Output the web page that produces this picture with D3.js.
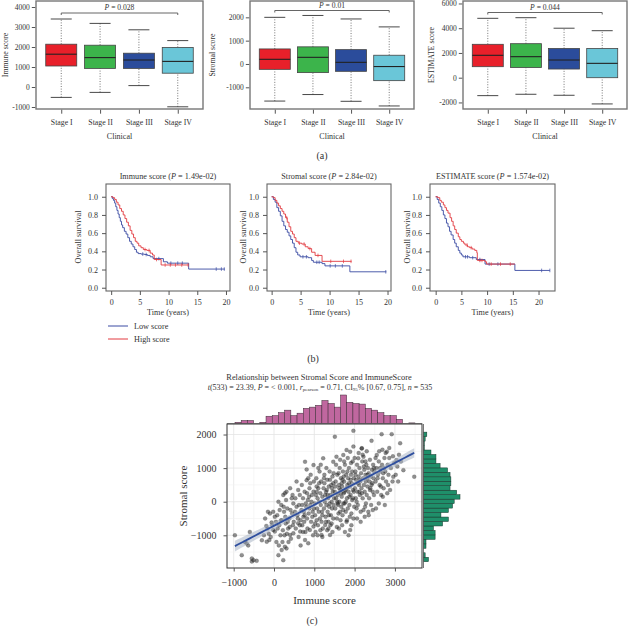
<!DOCTYPE html>
<html><head><meta charset="utf-8">
<script src="https://cdn.jsdelivr.net/npm/d3@7"></script>
<style>body{margin:0;background:#fff}svg{display:block}text{font-family:"Liberation Serif","Times New Roman",serif;fill:#333}</style>
</head><body><svg id="c" width="629" height="626"></svg>
<script>
// ---------------- DATA ----------------
const stages = ["Stage I","Stage II","Stage III","Stage IV"];
const stageColors = ["#e8202a","#3cb44b","#2b4c9b","#6ac6d8"];
// [lowerWhisker, Q1, median, Q3, upperWhisker]
const immuneBox   = [[-520,1050,1640,2140,3400],[-270,930,1470,2090,3180],[70,930,1350,1690,2860],[-990,690,1280,1980,2320]];
const stromalBox  = [[-1590,-230,200,645,2000],[-1310,-370,285,735,2080],[-1600,-315,70,615,1930],[-1800,-715,-110,375,1590]];
const estimateBox = [[-1450,890,1810,2700,4800],[-1340,820,1700,2750,4850],[-1420,700,1430,2360,4000],[-2120,0,1160,2360,3800]];
const immuneTicks = [-1000,0,1000,2000,3000,4000];
const stromalTicks = [-1000,0,1000,2000];
const estimateTicks = [-2000,0,2000,4000,6000];
const pValuesA = ["0.028","0.01","0.044"];

// Kaplan-Meier steps [years, survival]
const kmImmuneLow  = [[0,1],[0.2,0.98],[0.4,0.96],[0.6,0.93],[0.8,0.89],[1,0.85],[1.2,0.81],[1.4,0.77],[1.6,0.73],[1.8,0.69],[2.0,0.66],[2.3,0.62],[2.6,0.59],[2.9,0.55],[3.2,0.51],[3.5,0.48],[3.8,0.45],[4.1,0.42],[4.4,0.39],[4.7,0.375],[5.2,0.37],[5.8,0.365],[6.3,0.355],[6.8,0.34],[7.3,0.32],[9.1,0.285],[9.8,0.27],[13.5,0.205],[19.8,0.205]];
const kmImmuneHigh = [[0,1],[0.3,0.99],[0.6,0.97],[0.9,0.94],[1.2,0.91],[1.5,0.87],[1.8,0.84],[2.1,0.8],[2.4,0.76],[2.7,0.72],[3.0,0.68],[3.3,0.63],[3.6,0.59],[3.9,0.55],[4.2,0.51],[4.5,0.49],[4.8,0.46],[5.2,0.44],[5.6,0.42],[6.2,0.41],[6.8,0.38],[7.2,0.36],[7.5,0.31],[8.7,0.25],[13.5,0.25]];
const kmStromalLow  = [[0,1],[0.3,0.97],[0.6,0.94],[0.9,0.88],[1.2,0.84],[1.5,0.79],[1.8,0.73],[2.1,0.68],[2.4,0.64],[2.7,0.61],[3.0,0.57],[3.3,0.53],[3.6,0.49],[3.9,0.44],[4.2,0.39],[4.5,0.36],[4.9,0.34],[6.3,0.33],[6.9,0.30],[7.2,0.28],[8.7,0.265],[9.2,0.24],[13.5,0.175],[19.8,0.175]];
const kmStromalHigh = [[0,1],[0.3,0.99],[0.6,0.96],[0.9,0.93],[1.2,0.9],[1.5,0.87],[1.8,0.84],[2.1,0.81],[2.4,0.77],[2.7,0.72],[3.0,0.67],[3.3,0.62],[3.6,0.59],[3.9,0.55],[4.2,0.51],[4.6,0.49],[5.2,0.48],[5.8,0.45],[6.3,0.43],[6.9,0.39],[7.5,0.355],[8.7,0.29],[13.8,0.29]];
const kmEstimateLow  = [[0,1],[0.3,0.97],[0.6,0.93],[0.9,0.89],[1.2,0.85],[1.5,0.8],[1.8,0.76],[2.1,0.71],[2.4,0.67],[2.7,0.62],[3.0,0.58],[3.4,0.53],[3.7,0.49],[4.0,0.45],[4.4,0.41],[4.7,0.38],[5.0,0.36],[5.3,0.34],[6.6,0.33],[7.9,0.31],[9.6,0.26],[15.4,0.19],[22.2,0.19]];
const kmEstimateHigh = [[0,1],[0.4,0.99],[0.8,0.96],[1.1,0.94],[1.5,0.91],[1.8,0.88],[2.1,0.85],[2.4,0.82],[2.8,0.77],[3.1,0.73],[3.4,0.68],[3.7,0.64],[4.0,0.6],[4.4,0.56],[4.7,0.53],[5.0,0.51],[5.4,0.49],[5.7,0.47],[6.2,0.45],[6.6,0.44],[7.1,0.425],[7.6,0.41],[8.0,0.385],[8.1,0.30],[9.6,0.285],[9.9,0.26],[15.4,0.26]];
const censorImmuneLow = [5.5,6.1,8.3,10.4,11.6,12.4,18.3,19.2,19.7];
const censorImmuneHigh = [5.9,6.6,7.9,9.4,10.3,11.2,12.3,13.4];
const censorStromalLow = [5.4,6.0,7.8,8.2,10.1,11.0,12.2,19.7];
const censorStromalHigh = [2.6,4.8,5.6,6.6,8.0,10.2,12.4,13.7];
const censorEstimateLow = [5.8,6.2,7.2,8.6,10.4,12.1,20.6,22.2];
const censorEstimateHigh = [6.1,6.9,8.6,9.0,10.8,12.6,14.5];
const kmTitles = ["Immune score","Stromal score","ESTIMATE score"];
const kmP = ["1.49e-02","2.84e-02","1.574e-02"];
const kmXTicks = [0,5,10,15,20];
const kmYTicks = [0,0.2,0.4,0.6,0.8,1.0];
const legendLabels = ["Low score","High score"];

// Scatter: [immune score, stromal score]
const scatterPoints = [
[-970,-1000],[-800,-1590],[-680,-1240],[-550,-1690],[-510,-1740],[-550,-1780],[-430,-1760],[-640,-1300],[-720,-1200],[-600,-900],[-300,-1150],[-220,-500],[-160,-800],[-100,-350],[-20,-300],[-20,-840],[-115,-1140],[-180,-1190],[-60,-620],[-130,-950],[-80,-1050],[-40,-700],[-250,-1000],[-190,-720],[-150,-300],
[20,-890],[110,0],[110,-1590],[230,-1740],[270,-1340],[190,-1440],[310,-1390],[400,-990],[480,-940],[270,250],[310,300],[480,-50],[230,200],[400,400],[50,-600],[80,-400],[130,-700],[160,-1000],[200,-550],[220,-850],[250,-300],[290,-650],[330,-200],[350,-800],[380,-500],[420,-1100],[450,-350],[470,-700],[60,-1200],[140,-250],[180,-100],[260,-1000],[300,50],[360,-1200],[440,100],[20,-450],[90,-800],[170,-560],[240,-150],[320,-950],[410,-250],[490,-600],[120,-1300],[210,-1200],[280,-450],[340,-600],[460,200],[390,-750],
[560,600],[810,640],[560,-150],[730,-450],[850,-1240],[770,-1140],[650,-890],[600,-640],[890,-840],[980,-740],[1060,450],[770,1190],[810,960],[980,1090],[520,-300],[540,-800],[580,-400],[620,-100],[640,200],[660,-550],[680,-250],[700,-700],[720,100],[740,-300],[760,300],[780,-900],[800,-150],[820,-500],[840,50],[860,-350],[880,400],[900,-100],[920,-600],[940,200],[960,-300],[990,600],[530,100],[610,-1050],[690,500],[750,-600],[830,-800],[870,150],[910,800],[950,-450],[970,-1000],[600,350],[700,-100],[790,-50],[850,700],[930,0],[980,300],[660,-1300],[720,-900],[880,-200],[590,-500],[640,-700],[820,250],[900,550],[760,-400],[990,-200],
[1060,-550],[1180,-990],[1270,-690],[1390,-990],[1470,-500],[1310,350],[1470,550],[1220,1290],[1470,1190],[1510,1935],[1010,-50],[1020,-400],[1040,200],[1050,700],[1070,-200],[1080,100],[1090,-700],[1100,400],[1110,-300],[1120,0],[1130,900],[1140,-500],[1150,250],[1160,-100],[1170,600],[1190,-300],[1200,150],[1210,-800],[1230,400],[1240,-200],[1250,800],[1260,0],[1280,-450],[1290,300],[1300,-100],[1320,650],[1330,-300],[1340,100],[1350,-600],[1360,450],[1370,-150],[1380,900],[1400,200],[1410,-400],[1420,500],[1430,0],[1440,-200],[1450,750],[1460,300],[1480,-100],[1490,100],[1030,-900],[1100,1000],[1150,-850],[1200,-1050],[1250,550],[1300,1000],[1350,-800],[1400,-700],[1450,-900],[1060,300],[1120,550],[1180,-600],[1240,700],[1330,200],[1380,-50],[1440,400],[1480,850],[1020,-650],[1200,-400],[1290,-600],[1360,-400],[1430,-650],[1160,1100],[1270,200],[1390,650],[1080,-1000],[1320,-850],
[1600,-350],[1720,-250],[1800,-600],[1890,-840],[1970,-500],[1550,1340],[1720,1390],[1800,1540],[1890,1490],[1970,1640],[1970,2110],[1510,300],[1520,-200],[1530,600],[1540,100],[1560,-500],[1570,800],[1580,200],[1590,-100],[1610,500],[1620,0],[1630,1000],[1640,-300],[1650,350],[1660,700],[1670,-150],[1680,150],[1690,450],[1700,-400],[1710,900],[1730,250],[1740,600],[1750,-50],[1760,1100],[1770,350],[1780,-300],[1790,800],[1810,100],[1820,500],[1830,-200],[1840,700],[1850,300],[1860,1000],[1870,-100],[1880,450],[1900,200],[1910,800],[1920,-350],[1930,550],[1940,50],[1950,1200],[1960,350],[1980,700],[1990,-150],[1560,-750],[1610,-800],[1690,-700],[1760,-900],[1850,-1000],[1920,-700],[1540,1100],[1640,1250],[1740,1200],[1830,1300],[1910,1150],[1620,400],[1700,650],[1780,0],[1860,550],[1940,900],[1580,-50],[1660,250],[1720,-50],[1800,400],[1880,-450],[1960,100],[1520,450],[1600,850],[1680,550],[1750,300],[1820,900],[1900,650],[1980,300],[1570,0],[1650,-550],[1730,750],[1810,-550],[1870,150],
[2050,-200],[2220,-250],[2340,-300],[2180,1590],[2090,1290],[2220,1340],[2420,1815],[2175,1587],[2010,400],[2020,900],[2030,100],[2040,650],[2060,1100],[2070,300],[2080,-100],[2100,750],[2110,500],[2120,1000],[2130,200],[2140,600],[2150,-300],[2160,850],[2170,400],[2190,1200],[2200,100],[2210,700],[2230,500],[2240,950],[2250,300],[2260,-150],[2270,800],[2280,600],[2290,1100],[2300,200],[2310,700],[2320,450],[2330,1000],[2350,850],[2360,100],[2370,600],[2380,1250],[2390,400],[2400,750],[2410,-100],[2430,950],[2440,550],[2450,300],[2460,1100],[2470,700],[2480,200],[2490,900],[2060,-500],[2150,-600],[2250,-450],[2350,-400],[2450,-250],[2000,1300],[2100,1450],[2200,1400],[2300,1500],[2050,0],[2130,650],[2230,1050],[2320,800],[2420,500],[2080,550],[2180,250],[2280,-50],[2380,350],[2480,1000],[2020,800],[2120,300],[2270,1200],
[2550,1390],[2670,2010],[2920,2010],[2800,1490],[2750,-100],[2880,350],[2960,740],[2520,600],[2540,1000],[2560,300],[2580,800],[2600,1200],[2620,500],[2640,900],[2660,200],[2680,1100],[2700,700],[2720,400],[2740,1300],[2760,900],[2780,600],[2820,1100],[2840,800],[2860,1300],[2900,1000],[2940,600],[2980,1150],[2530,-200],[2600,-50],[2700,150],[2810,250],[2520,1300],[2610,1500],[2690,1550],[2770,1450],[2860,1600],[2570,700],[2650,450],[2730,1000],[2830,500],[2950,1350],[2630,1000],[2710,850],
[3130,1740],[3040,1240],[3210,940],[3480,745],[3020,800],[3060,1050],[3100,1400],[3150,1200],[3080,600]
];
const fitIntercept = -716, fitSlope = 0.624;
const scatterXTicks = [-1000,0,1000,2000,3000];
const scatterYTicks = [-1000,0,1000,2000];
// marginal histograms (counts per bin)
const immuneHistStart = -968, immuneHistWidth = 154;
const immuneHistCounts = [2,5,5,0,2,12,13,18,22,13,17,25,27,30,38,33,27,47,35,33,32,25,22,18,13,13,7,0,1];
const stromalHistStart = -1786, stromalHistWidth = 133;
const stromalHistCounts = [6,2,0,3,3,14,14,12,23,30,21,30,35,37,44,40,32,33,33,32,29,20,15,15,9,1,1,2,4];

// ---------------- DRAW ----------------
const svg = d3.select("#c");
const SERIF = '"Liberation Serif","Times New Roman",serif';

function styleAxis(g, fs){
  g.select(".domain").remove();
  g.selectAll("text").attr("font-size",fs).attr("font-family",SERIF).attr("fill","#333");
  g.selectAll(".tick line").attr("stroke","#555");
}

// Panel (a) boxplots
function boxPanel(o){
  const g = svg.append("g");
  const x = d3.scalePoint().domain(stages).range([o.x0,o.x1]).padding(0.65);
  const y = d3.scaleLinear().domain(o.dom).range([o.y1,o.y0]);
  const bw = 31, cw = 21;
  o.data.forEach((d,i)=>{
    const cx = x(stages[i]);
    g.append("line").attr("x1",cx).attr("x2",cx).attr("y1",y(d[0])).attr("y2",y(d[1]))
      .attr("stroke","#666").attr("stroke-dasharray","1,1.6").attr("stroke-width",0.9);
    g.append("line").attr("x1",cx).attr("x2",cx).attr("y1",y(d[3])).attr("y2",y(d[4]))
      .attr("stroke","#666").attr("stroke-dasharray","1,1.6").attr("stroke-width",0.9);
    [d[0],d[4]].forEach(v=>g.append("line").attr("x1",cx-cw/2).attr("x2",cx+cw/2).attr("y1",y(v)).attr("y2",y(v)).attr("stroke","#333").attr("stroke-width",0.9));
    g.append("rect").attr("x",cx-bw/2).attr("width",bw).attr("y",y(d[3])).attr("height",y(d[1])-y(d[3]))
      .attr("fill",stageColors[i]).attr("stroke","#444").attr("stroke-width",0.8);
    g.append("line").attr("x1",cx-bw/2).attr("x2",cx+bw/2).attr("y1",y(d[2])).attr("y2",y(d[2])).attr("stroke","#222").attr("stroke-width",1.1);
  });
  g.append("rect").attr("x",o.x0).attr("y",o.y0).attr("width",o.x1-o.x0).attr("height",o.y1-o.y0)
    .attr("fill","none").attr("stroke","#777").attr("stroke-width",1.4);
  const ay = g.append("g").attr("transform",`translate(${o.x0-0.7},0)`).call(d3.axisLeft(y).tickValues(o.ticks).tickSize(3.5).tickPadding(2).tickFormat(d3.format("d")));
  styleAxis(ay,7.5);
  ay.selectAll("text").text(d=>d<0?"-"+Math.abs(d):d);
  const ax = g.append("g").attr("transform",`translate(0,${o.y1+0.7})`).call(d3.axisBottom(x).tickSize(4).tickPadding(6));
  styleAxis(ax,7.8);
  // bracket
  const bx0 = x(stages[0]), bx1 = x(stages[3]);
  g.append("path").attr("d",`M${bx0},${o.by+2}V${o.by}H${bx1}V${o.by+2}`).attr("fill","none").attr("stroke","#555").attr("stroke-width",0.9);
  const pt = g.append("text").attr("x",(bx0+bx1)/2).attr("y",o.by-3).attr("text-anchor","middle").attr("font-size",7.6);
  pt.append("tspan").attr("font-style","italic").text("P");
  pt.append("tspan").text(" = "+o.p);
  g.append("text").attr("x",(o.x0+o.x1)/2).attr("y",138.5).attr("text-anchor","middle").attr("font-size",8).text("Clinical");
  g.append("text").attr("transform",`translate(${o.lx},${(o.y0+o.y1)/2}) rotate(-90)`).attr("text-anchor","middle").attr("font-size",7.8).text(o.label);
}
boxPanel({x0:36,x1:203,y0:1,y1:109,dom:[-1100,4300],ticks:immuneTicks,data:immuneBox,p:pValuesA[0],by:13,label:"Immune score",lx:8});
boxPanel({x0:250,x1:414,y0:1,y1:109,dom:[-1930,2700],ticks:stromalTicks,data:stromalBox,p:pValuesA[1],by:10.5,label:"Stromal score",lx:215});
boxPanel({x0:463,x1:627,y0:1,y1:109,dom:[-2530,6200],ticks:estimateTicks,data:estimateBox,p:pValuesA[2],by:12.5,label:"ESTIMATE score",lx:434});
svg.append("text").attr("x",322).attr("y",159).attr("text-anchor","middle").attr("font-size",10).text("(a)");

// Panel (b) KM
const kmBlue = "#3a4ba3", kmRed = "#e23a40";
function survAt(steps,t){ let s = steps[0][1]; for(const p of steps){ if(p[0]<=t) s=p[1]; } return s; }
function kmPanel(o){
  const g = svg.append("g");
  const x = d3.scaleLinear().domain(o.xdom).range([o.x0,o.x1]);
  const y = d3.scaleLinear().domain([-0.036,1.14]).range([291,184]);
  const line = d3.line().x(d=>x(d[0])).y(d=>y(d[1])).curve(d3.curveStepAfter);
  [[o.low,kmBlue,o.cLow],[o.high,kmRed,o.cHigh]].forEach(([dat,col,cens])=>{
    g.append("path").datum(dat).attr("d",line).attr("fill","none").attr("stroke",col).attr("stroke-width",0.9);
    g.selectAll(null).data(cens).enter().append("line")
      .attr("x1",t=>x(t)).attr("x2",t=>x(t)).attr("y1",t=>y(survAt(dat,t))-1.8).attr("y2",t=>y(survAt(dat,t))+1.8)
      .attr("stroke",col).attr("stroke-width",0.7);
  });
  g.append("rect").attr("x",o.x0).attr("y",184).attr("width",o.x1-o.x0).attr("height",107)
    .attr("fill","none").attr("stroke","#666").attr("stroke-width",1.1);
  const ay = g.append("g").attr("transform",`translate(${o.x0},0)`).call(d3.axisLeft(y).tickValues(kmYTicks).tickSize(4).tickPadding(4).tickFormat(d3.format(".1f")));
  styleAxis(ay,8);
  const ax = g.append("g").attr("transform",`translate(0,291)`).call(d3.axisBottom(x).tickValues(kmXTicks).tickSize(4).tickPadding(4));
  styleAxis(ax,8);
  const t = g.append("text").attr("x",(o.x0+o.x1)/2).attr("y",179).attr("text-anchor","middle").attr("font-size",8.2);
  t.append("tspan").text(o.title+" (");
  t.append("tspan").attr("font-style","italic").text("P");
  t.append("tspan").text(" = "+o.p+")");
  g.append("text").attr("x",(o.x0+o.x1)/2).attr("y",315).attr("text-anchor","middle").attr("font-size",8.2).text("Time (years)");
  g.append("text").attr("transform",`translate(${o.lx},237) rotate(-90)`).attr("text-anchor","middle").attr("font-size",8.2).text("Overall survival");
}
kmPanel({x0:106,x1:230,xdom:[-0.9,20.7],low:kmImmuneLow,high:kmImmuneHigh,cLow:censorImmuneLow,cHigh:censorImmuneHigh,title:kmTitles[0],p:kmP[0],lx:81});
kmPanel({x0:267,x1:391,xdom:[-0.8,20.6],low:kmStromalLow,high:kmStromalHigh,cLow:censorStromalLow,cHigh:censorStromalHigh,title:kmTitles[1],p:kmP[1],lx:246});
kmPanel({x0:430,x1:555,xdom:[-1.1,23.2],low:kmEstimateLow,high:kmEstimateHigh,cLow:censorEstimateLow,cHigh:censorEstimateHigh,title:kmTitles[2],p:kmP[2],lx:410});
// legend
[[kmBlue,326],[kmRed,339]].forEach(([c,yy],i)=>{
  svg.append("line").attr("x1",108).attr("x2",128).attr("y1",yy).attr("y2",yy).attr("stroke",c).attr("stroke-width",1);
  svg.append("text").attr("x",134).attr("y",yy+2.8).attr("font-size",8.2).text(legendLabels[i]);
});
svg.append("text").attr("x",313).attr("y",362).attr("text-anchor","middle").attr("font-size",10).text("(b)");

// Panel (c) scatter
const SX0=227,SX1=422,SY0=424,SY1=568;
const sx = d3.scaleLinear().domain([-1166,3672]).range([SX0,SX1]);
const sy = d3.scaleLinear().domain([-1973,2313]).range([SY1,SY0]);
const gc = svg.append("g");
// grid
const minorX = d3.range(-1000,3600,500), minorY = d3.range(-1500,2300,500);
minorX.forEach(v=>gc.append("line").attr("x1",sx(v)).attr("x2",sx(v)).attr("y1",SY0).attr("y2",SY1).attr("stroke",scatterXTicks.includes(v)?"#e3e3e3":"#f1f1f1").attr("stroke-width",scatterXTicks.includes(v)?0.8:0.6));
minorY.forEach(v=>gc.append("line").attr("x1",SX0).attr("x2",SX1).attr("y1",sy(v)).attr("y2",sy(v)).attr("stroke",scatterYTicks.includes(v)?"#e3e3e3":"#f1f1f1").attr("stroke-width",scatterYTicks.includes(v)?0.8:0.6));
// points
gc.selectAll("circle").data(scatterPoints).enter().append("circle")
  .attr("cx",d=>sx(d[0])).attr("cy",d=>sy(d[1])).attr("r",2)
  .attr("fill","#222").attr("fill-opacity",0.5).attr("stroke","#111").attr("stroke-opacity",0.35).attr("stroke-width",0.4);
// regression + CI
const xs = scatterPoints.map(d=>d[0]);
const mx = d3.mean(xs), n = scatterPoints.length;
const sxx = d3.sum(xs,v=>(v-mx)*(v-mx));
const resid = Math.sqrt(d3.sum(scatterPoints,d=>{const r=d[1]-(fitIntercept+fitSlope*d[0]);return r*r;})/(n-2));
const xr = d3.extent(xs);
const grid = d3.range(xr[0],xr[1]+1,(xr[1]-xr[0])/60);
const band = grid.map(v=>{const f=fitIntercept+fitSlope*v; const se=resid*Math.sqrt(1/n+(v-mx)*(v-mx)/sxx)*1.96; return [v,f-se,f+se];});
gc.append("path").datum(band).attr("d",d3.area().x(d=>sx(d[0])).y0(d=>sy(d[1])).y1(d=>sy(d[2])))
  .attr("fill","#aab4c4").attr("fill-opacity",0.55);
gc.append("path").datum(grid).attr("d",d3.line().x(v=>sx(v)).y(v=>sy(fitIntercept+fitSlope*v)))
  .attr("fill","none").attr("stroke","#2f4f9f").attr("stroke-width",1.8);
gc.append("rect").attr("x",SX0).attr("y",SY0).attr("width",SX1-SX0).attr("height",SY1-SY0).attr("fill","none").attr("stroke","#333").attr("stroke-width",1);
const sax = gc.append("g").attr("transform",`translate(0,${SY1})`).call(d3.axisBottom(sx).tickValues(scatterXTicks).tickSize(3.5).tickPadding(7.5).tickFormat(d=>d<0?"\u2212"+Math.abs(d):d));
styleAxis(sax,10);
const say = gc.append("g").attr("transform",`translate(${SX0},0)`).call(d3.axisLeft(sy).tickValues(scatterYTicks).tickSize(3.5).tickPadding(7).tickFormat(d=>d<0?"\u2212"+Math.abs(d):d));
styleAxis(say,10);
gc.append("text").attr("x",(SX0+SX1)/2).attr("y",604).attr("text-anchor","middle").attr("font-size",11).text("Immune score");
gc.append("text").attr("transform",`translate(187,${(SY0+SY1)/2}) rotate(-90)`).attr("text-anchor","middle").attr("font-size",11).text("Stromal score");
// top histogram
const hTop = d3.scaleLinear().domain([0,47]).range([423.5,395]);
gc.selectAll(".ht").data(immuneHistCounts).enter().append("rect")
  .attr("x",(c,i)=>sx(immuneHistStart+i*immuneHistWidth)).attr("width",sx(immuneHistWidth)-sx(0))
  .attr("y",c=>hTop(c)).attr("height",c=>hTop(0)-hTop(c))
  .attr("fill","#c0679f").attr("stroke","#3a2a35").attr("stroke-width",0.5);
gc.append("line").attr("x1",SX0).attr("x2",SX1).attr("y1",423.5).attr("y2",423.5).attr("stroke","#555").attr("stroke-width",0.8);
// right histogram
const hR = d3.scaleLinear().domain([0,44]).range([423.5,460]);
gc.selectAll(".hr").data(stromalHistCounts).enter().append("rect")
  .attr("y",(c,i)=>sy(stromalHistStart+(i+1)*stromalHistWidth)).attr("height",sy(0)-sy(stromalHistWidth))
  .attr("x",hR(0)).attr("width",c=>hR(c)-hR(0))
  .attr("fill","#1f8f6a").attr("stroke","#16352a").attr("stroke-width",0.5);
gc.append("line").attr("x1",423.5).attr("x2",423.5).attr("y1",SY0).attr("y2",SY1).attr("stroke","#555").attr("stroke-width",0.8);
// titles
gc.append("text").attr("x",319).attr("y",380).attr("text-anchor","middle").attr("font-size",8.4).text("Relationship between Stromal Score and ImmuneScore");
const st = gc.append("text").attr("x",320).attr("y",389.5).attr("text-anchor","middle").attr("font-size",8);
const parts = [["t","i"],["(533) = 23.39, ",""],["P","i"],[" = < 0.001, ",""],["r","i"],["pearson","s"],[" = 0.71, CI",""],["95","s"],["% [0.67, 0.75], ",""],["n","i"],[" = 535",""]];
let prevSub=false;
parts.forEach(([tx,k])=>{
  const ts = st.append("tspan").text(tx);
  if(k==="i") ts.attr("font-style","italic");
  if(k==="s"){ ts.attr("font-size",5).attr("dy",prevSub?0:1.6); prevSub=true; }
  else { if(prevSub) ts.attr("dy",-1.6); prevSub=false; }
});
svg.append("text").attr("x",312).attr("y",624).attr("text-anchor","middle").attr("font-size",10).text("(c)");
</script></body></html>
